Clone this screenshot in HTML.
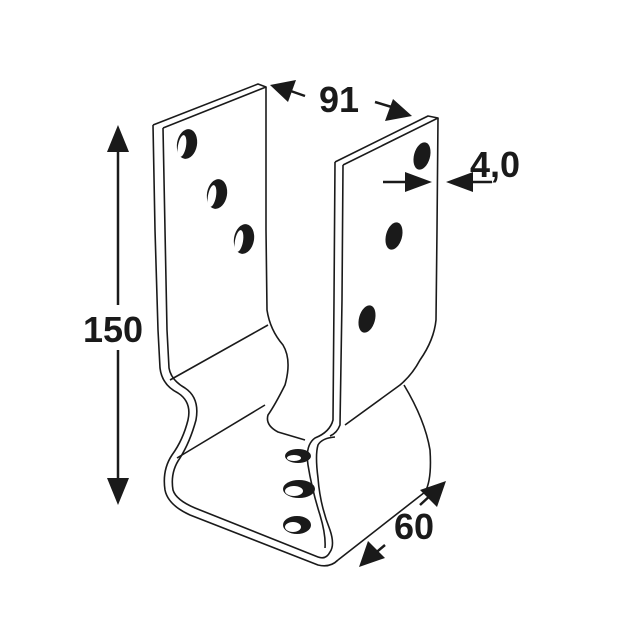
<!DOCTYPE html>
<html><head><style>
html,body{margin:0;padding:0;background:#fff;}
svg{display:block;}
text{font-family:"Liberation Sans",Arial,sans-serif;font-weight:bold;fill:#1a1a1a;}
</style></head><body>
<svg width="640" height="640" viewBox="0 0 640 640" xmlns="http://www.w3.org/2000/svg">
<g fill="none" stroke="#1a1a1a" stroke-width="1.6" stroke-linejoin="round">
<path d="M153,125 L258,84 L266,87 L163,128"/>
<path d="M153,125 L155,230 L158,330 L160,368 Q162,385 178,393 Q192,402 188,420 Q183,440 172,455 Q162,470 165,490 Q168,505 190,515 L318,565 Q330,568 338,560"/>
<path d="M163,128 L165,230 L167,330 L169,368 Q171,380 185,388 Q200,398 196,420 Q190,442 180,458 Q170,472 173,490 Q176,500 195,508 L318,557 Q326,560 330,552 Q335,545 330,530 Q320,505 318,478 Q315,455 318,445 Q322,438 335,437"/>
<path d="M266,87 L266,230 L267,310 Q270,330 283,345 Q292,360 285,385 Q275,405 268,415 Q265,425 278,432 L305,440"/>
<path d="M170,380 L268,325"/>
<path d="M177,458 L265,405"/>
<path d="M335,162 L428,116 L438,118 L343,165"/>
<path d="M335,162 L334,300 L333,420 Q330,432 315,438 Q305,445 308,465 Q312,490 320,515 Q326,535 325,548"/>
<path d="M343,165 L342,300 L340,425 Q337,433 330,436"/>
<path d="M438,118 L437,230 L436,320 Q434,340 420,360 Q412,375 400,385 L345,425"/>
<path d="M404,385 Q425,420 430,450 Q432,480 425,492 L338,560"/>
</g>
<g fill="#1a1a1a">
<ellipse cx="187" cy="144" rx="10" ry="15" transform="rotate(10 187 144)"/>
<ellipse cx="217" cy="194" rx="10" ry="15" transform="rotate(10 217 194)"/>
<ellipse cx="244" cy="239" rx="10" ry="15" transform="rotate(10 244 239)"/>
<ellipse cx="422" cy="156" rx="8" ry="14" transform="rotate(15 422 156)"/>
<ellipse cx="394" cy="236" rx="8" ry="14" transform="rotate(15 394 236)"/>
<ellipse cx="367" cy="319" rx="8" ry="14" transform="rotate(15 367 319)"/>
<ellipse cx="298" cy="456" rx="13" ry="7"/>
<ellipse cx="299" cy="489" rx="16" ry="9"/>
<ellipse cx="297" cy="525" rx="14" ry="9"/>
</g>
<g fill="#fff">
<ellipse cx="182" cy="146" rx="4" ry="11" transform="rotate(10 182 146)"/>
<ellipse cx="212" cy="196" rx="4" ry="11" transform="rotate(10 212 196)"/>
<ellipse cx="239" cy="241" rx="4" ry="11" transform="rotate(10 239 241)"/>
<ellipse cx="294" cy="491" rx="9" ry="5"/>
<ellipse cx="294" cy="458" rx="7" ry="3"/>
<ellipse cx="293" cy="527" rx="8" ry="5"/>
</g>
<g stroke="#1a1a1a" stroke-width="2.5" fill="#1a1a1a">
<line x1="118" y1="140" x2="118" y2="305"/>
<line x1="118" y1="350" x2="118" y2="490"/>
<polygon points="118,125 107,152 129,152" stroke="none"/>
<polygon points="118,505 107,478 129,478" stroke="none"/>
<line x1="305" y1="96" x2="285" y2="89"/>
<polygon points="270,85 296,80 288,102" stroke="none"/>
<line x1="375" y1="102" x2="395" y2="108"/>
<polygon points="412,116 385,121 393,99" stroke="none"/>
<line x1="383" y1="182" x2="415" y2="182"/>
<polygon points="432,182 405,172 405,192" stroke="none"/>
<line x1="492" y1="182" x2="462" y2="182"/>
<polygon points="446,182 473,172 473,192" stroke="none"/>
<line x1="420" y1="505" x2="433" y2="493"/>
<polygon points="446,481 420,490 437,507" stroke="none"/>
<line x1="385" y1="545" x2="372" y2="556"/>
<polygon points="359,567 385,558 368,541" stroke="none"/>
</g>
<text x="83" y="342" font-size="36">150</text>
<text x="319" y="112" font-size="36">91</text>
<text x="470" y="177" font-size="36">4,0</text>
<text x="394" y="539" font-size="36">60</text>
</svg>
</body></html>
